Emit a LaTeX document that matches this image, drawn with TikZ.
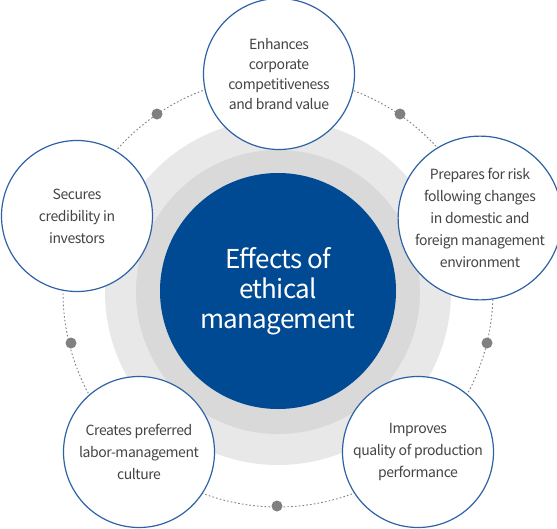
\documentclass[tikz,border=0pt]{standalone}
\usepackage{fontspec}
\setmainfont{Noto Sans CJK KR}[LetterSpace=-3]
\definecolor{mainblue}{HTML}{004A94}
\definecolor{edgeblue}{HTML}{2E62A6}
\definecolor{ringdark}{HTML}{D9D9D9}
\definecolor{ringlight}{HTML}{E8E8E8}
\definecolor{txt}{HTML}{444444}
\definecolor{dotgray}{HTML}{808080}
\tikzset{
  sat/.style={circle, draw=edgeblue, line width=1.2pt, fill=white, minimum size=151pt, inner sep=0pt, align=center, text=txt, font=\fontsize{14}{22}\selectfont},
  dotmark/.style={circle, fill=dotgray, minimum size=11pt, inner sep=0pt},
  orbit/.style={draw=dotgray, line width=0.9pt, dash pattern=on 1.6pt off 2.2pt}
}
\begin{document}
\begin{tikzpicture}[x=1pt,y=-1pt]
\useasboundingbox (0,0) rectangle (557,528);
\fill[ringlight] (278,292) circle (173);
\fill[ringdark] (278,292) circle (142);
\node[circle, fill=mainblue, minimum size=236pt, inner sep=0pt, align=center, text=white, font=\fontsize{26}{30}\selectfont] (center) at (278,291) {Effects of\\ethical\\management};
\coordinate (orbc) at (278,292);
\draw[orbit] (orbc) circle (215);
\node[dotmark] (d1) at (157,114) {};
\node[dotmark] (d2) at (400,114) {};
\node[dotmark] (d3) at (71,343) {};
\node[dotmark] (d4) at (487,343) {};
\node[dotmark] (d5) at (277,506) {};
\node[sat, font=\fontsize{14}{20}\selectfont] (top) at (279,74) {Enhances\\corporate\\competitiveness\\and brand value};
\node[sat] (left) at (77,216) {Secures\\credibility in\\investors};
\node[sat] (right) at (480,218) {Prepares for risk\\following changes\\in domestic and\\foreign management\\environment};
\node[sat] (bl) at (139,452) {Creates preferred\\labor-management\\culture};
\node[sat] (br) at (418,452) {Improves\\quality of production\\performance};
\end{tikzpicture}
\end{document}
